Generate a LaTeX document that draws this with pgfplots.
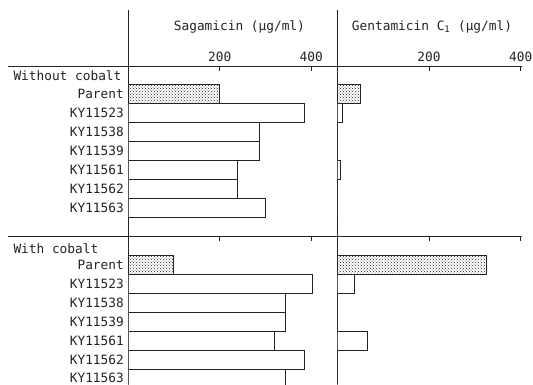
\documentclass[border=0pt]{standalone}
\usepackage{pgfplots}
\pgfplotsset{compat=1.18}
\usepackage{fontspec}
\setmainfont{DejaVu Sans Mono}
\usetikzlibrary{patterns}
\newcommand{\lab}{\fontsize{12.8}{14}\selectfont}
\definecolor{ink}{RGB}{35,35,35}
\tikzset{tickmark/.style={line width=0.7pt, draw=ink}}
\begin{document}
\begin{tikzpicture}
\pgfplotsset{
  panel/.style={
    scale only axis,
    height=317.5pt,
    ymin=-16.27, ymax=0.44,
    xmin=0,
    axis x line=top,
    axis y line=left,
    axis line style={-, line width=0.7pt, ink},
    xtick={200,400},
    major tick length=0pt,
    x tick style={draw=none},
    y tick style={draw=none},
    xticklabel style={font=\lab, text=ink, yshift=1pt},
    yticklabel style={font=\lab, text=ink, inner sep=0pt, xshift=-4.3pt},
    /pgf/number format/assume math mode=true,
    clip=true,
    anchor=north west,
  },
  parentbar/.style={xbar, bar width=19pt, bar shift=0pt, draw=ink, line width=0.7pt, pattern=crosshatch dots, pattern color=black!85},
  strainbar/.style={xbar, bar width=19pt, bar shift=0pt, draw=ink, line width=0.7pt, fill=white},
}
% Sagamicin panel
\begin{axis}[panel, at={(128.3pt,-66.5pt)}, width=209pt, xmax=457,
  ytick={-1,-2,-3,-4,-5,-6,-7,-10,-11,-12,-13,-14,-15,-15.93},
  yticklabels={Parent,KY11523,KY11538,KY11539,KY11561,KY11562,KY11563,Parent,KY11523,KY11538,KY11539,KY11561,KY11562,KY11563},
]
\addplot[parentbar] coordinates {(198,-1) (98,-10)};
\addplot[strainbar] coordinates {(386,-2) (287,-3) (287,-4) (239,-5) (239,-6) (300,-7)
  (403,-11) (344,-12) (344,-13) (320,-14) (386,-15) (344,-16)};
\draw[tickmark] (axis cs:0,-8.5) -- (axis cs:457,-8.5);
\draw[tickmark] (axis cs:200,-8.5) -- ([yshift=-4.5pt]axis cs:200,-8.5);
\draw[tickmark] (axis cs:400,-8.5) -- ([yshift=-4.5pt]axis cs:400,-8.5);
\end{axis}
% Gentamicin C1 panel
\begin{axis}[panel, at={(337.3pt,-66.5pt)}, width=184.4pt, xmax=402, ytick=\empty]
\addplot[parentbar] coordinates {(51,-1) (326,-10)};
\addplot[strainbar] coordinates {(10,-2) (0,-3) (0,-4) (6,-5) (0,-6) (0,-7)
  (38,-11) (0,-12) (0,-13) (65,-14) (0,-15) (0,-16)};
\draw[tickmark] (axis cs:0,-8.5) -- (axis cs:402,-8.5);
\draw[tickmark] (axis cs:200,-8.5) -- ([yshift=-4.5pt]axis cs:200,-8.5);
\draw[tickmark] (axis cs:400,-8.5) -- ([yshift=-4.5pt]axis cs:400,-8.5);
\end{axis}
% top-line tick marks (pointing down)
\draw[tickmark] (219.77pt,-66.5pt) -- ++(0,-4.5pt);
\draw[tickmark] (311.2pt,-66.5pt) -- ++(0,-4.5pt);
\draw[tickmark] (429.04pt,-66.5pt) -- ++(0,-4.5pt);
\draw[tickmark] (520.8pt,-66.5pt) -- ++(0,-4.5pt);
% frame extensions
\draw[tickmark] (8.3pt,-66.5pt) -- (128.3pt,-66.5pt);
\draw[tickmark] (8.3pt,-236.3pt) -- (128.3pt,-236.3pt);
\draw[tickmark] (128.3pt,-10pt) -- (128.3pt,-66.5pt);
\draw[tickmark] (337.3pt,-10pt) -- (337.3pt,-66.5pt);
% titles and group headers
\node[font=\lab, text=ink] at (239.4pt,-26.5pt) {Sagamicin (μg/ml)};
\node[font=\lab, text=ink] at (432pt,-26.5pt) {Gentamicin C\textsubscript{1} (μg/ml)};
\node[font=\lab, text=ink, anchor=west, inner sep=0pt] at (13.3pt,-76pt) {Without cobalt};
\node[font=\lab, text=ink, anchor=west, inner sep=0pt] at (13.3pt,-248.3pt) {With cobalt};
\pgfresetboundingbox
\useasboundingbox (0,0) rectangle (533pt,-384pt);
\end{tikzpicture}
\end{document}
